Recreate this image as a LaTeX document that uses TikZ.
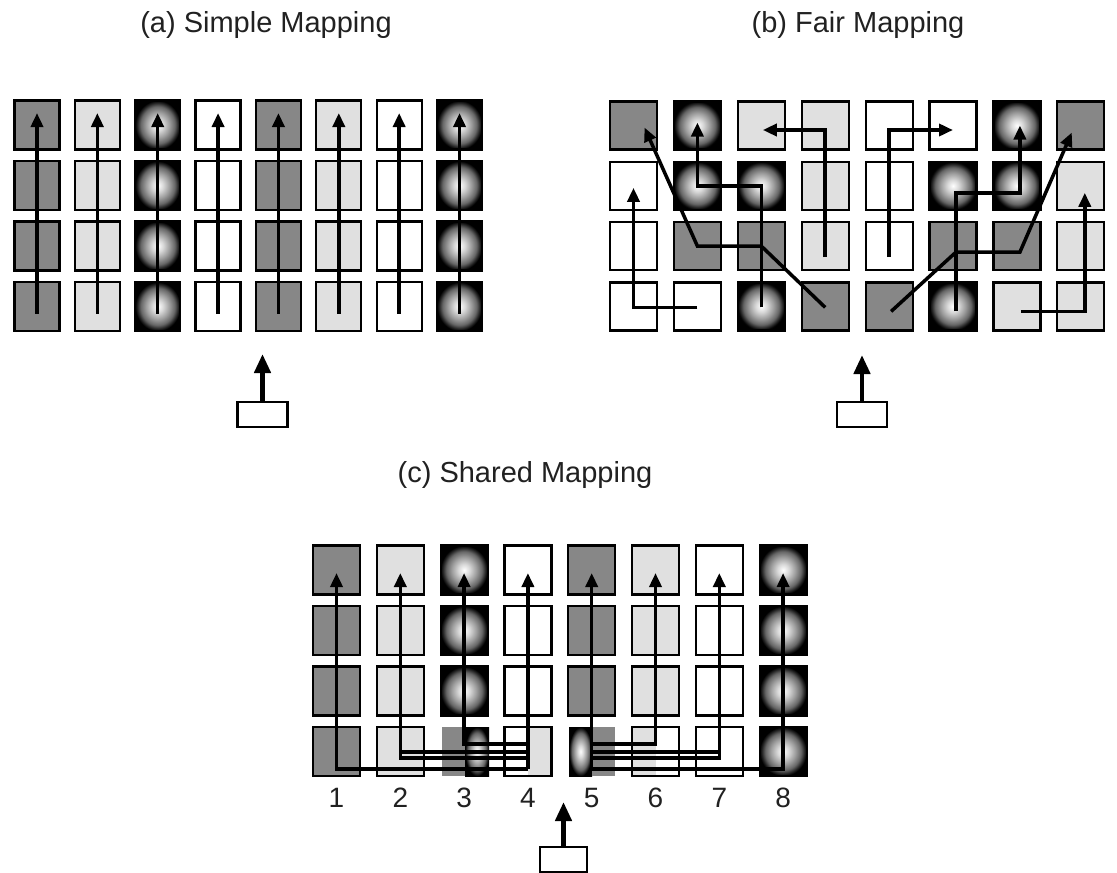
\documentclass[tikz,border=0pt]{standalone}
\usepackage{fontspec}
\setmainfont{Liberation Sans}
\usetikzlibrary{arrows.meta,calc}
\definecolor{cdark}{gray}{0.53}
\definecolor{clight}{gray}{0.88}
\definecolor{ctext}{gray}{0.13}
\pgfdeclareradialshading{ball}{\pgfpoint{0bp}{0bp}}{color(0bp)=(white); color(6bp)=(white!85!black); color(13bp)=(black!38); color(19bp)=(black!60); color(23bp)=(black!88); color(25bp)=(black); color(50bp)=(black)}
\tikzset{
  cell/.style={draw=black,line width=2.2pt,minimum height=49pt,inner sep=0pt,outer sep=0pt},
  fdk/.style={fill=cdark},
  flt/.style={fill=clight},
  fwh/.style={fill=white},
  fbl/.style={shading=ball},
  fnone/.style={draw=none},
  conn/.style={line width=3.5pt,-{Triangle[width=12pt,length=14pt]}},
  plain/.style={line width=3.5pt},
  inbox/.style={draw=black,line width=2.2pt,fill=white,minimum width=50pt,minimum height=25pt,inner sep=0pt,outer sep=0pt},
  inarrow/.style={line width=4.5pt,-{Triangle[width=16pt,length=19pt]}},
  title/.style={font=\fontsize{29}{34}\selectfont,text=ctext,inner sep=0pt},
  num/.style={font=\fontsize{28}{32}\selectfont,text=ctext,inner sep=0pt,anchor=base}
}
\begin{document}
\begin{tikzpicture}[x=1pt,y=-1pt]
\useasboundingbox[fill=white] (0,0) rectangle (1117,873);

% titles
\node[title] (ta) at (266,25) {(a) Simple Mapping};
\node[title] (tb) at (858,25) {(b) Fair Mapping};
\node[title] (tc) at (525,475) {(c) Shared Mapping};

% ---------- (a) ----------
\foreach \f [count=\i] in {fdk,flt,fbl,fwh,fdk,flt,fwh,fbl}
  \foreach \j in {1,...,4}
    \node[cell,\f,minimum width=45pt] (a-\j-\i) at ({37+60.36*(\i-1)},{125+60.5*(\j-1)}) {};
\foreach \i in {1,...,8}
  \draw[conn] ($(a-4-\i.center)+(0,7)$) -- ($(a-1-\i.center)+(0,-12)$);

\node[inbox] (ina) at (262.5,414.5) {};
\coordinate (ina-t) at (262.5,354);
\draw[inarrow] (ina.north) -- (ina-t);

% ---------- (b) ----------
\foreach \row [count=\j] in {{fdk,fbl,flt,flt,fwh,fwh,fbl,fdk},{fwh,fbl,fbl,flt,fwh,fbl,fbl,flt},{fwh,fdk,fdk,flt,fwh,fdk,fdk,flt},{fwh,fwh,fbl,fdk,fdk,fbl,flt,flt}}
  \foreach \f [count=\i] in \row
    \node[cell,\f,minimum width=47pt,minimum height=48pt] (b-\j-\i) at ({633.5+63.9*(\i-1)},{125.5+60.3*(\j-1)}) {};

% A
\draw[conn] ($(b-4-2.center)+(0,1)$) -- ($(b-4-1.center)+(0,1)$) -- ($(b-2-1.center)+(0,2)$);
% B
\draw[conn] ($(b-4-4.center)+(0,1)$) -- (b-3-3.center) -- (b-3-2.center) -- ($(b-1-1.center)+(11,2)$);
% C
\draw[conn] ($(b-4-3.center)+(0,1)$) -- (b-2-3.center) -- (b-2-2.center) -- ($(b-1-2.center)+(0,-3)$);
% D
\draw[conn] ($(b-3-4.center)+(0,11)$) -- ($(b-1-4.center)+(0,4.5)$) -- ($(b-1-3.center)+(1.5,4.5)$);
% E
\draw[conn] ($(b-3-5.center)+(0,11)$) -- ($(b-1-5.center)+(0,4.5)$) -- ($(b-1-6.center)+(0,4.5)$);
% F
\draw[conn] ($(b-4-6.center)+(3,5)$) -- ($(b-2-6.center)+(3,7)$) -- ($(b-2-7.center)+(3,7)$) -- ($(b-1-7.center)+(3,0)$);
% G
\draw[conn] ($(b-4-5.center)+(2,5)$) -- ($(b-3-6.center)+(3,6)$) -- ($(b-3-7.center)+(3,6)$) -- ($(b-1-8.center)+(-9,7)$);
% H
\draw[conn] ($(b-4-7.center)+(4,5)$) -- ($(b-4-8.center)+(4,5)$) -- ($(b-2-8.center)+(4,7)$);

\node[inbox] (inb) at (862,414.5) {};
\coordinate (inb-t) at (862,355);
\draw[inarrow] (inb.north) -- (inb-t);

% ---------- (c) ----------
\fill[cdark] (442,727) rectangle (465,776);
\shade[shading=ball] (465,727) rectangle (489,776);
\fill[clight] (528,727) rectangle (552,776);
\shade[shading=ball] (569,727) rectangle (592,776);
\fill[cdark] (592,727) rectangle (615,776);
\fill[clight] (633,727) rectangle (656,776);

\foreach \row [count=\j] in {{fdk,flt,fbl,fwh,fdk,flt,fwh,fbl},{fdk,flt,fbl,fwh,fdk,flt,fwh,fbl},{fdk,flt,fbl,fwh,fdk,flt,fwh,fbl},{fdk,flt,fnone,cell,fnone,cell,fwh,fbl}}
  \foreach \f [count=\i] in \row
    \node[cell,\f,minimum width=47pt] (c-\j-\i) at ({336.5+63.8*(\i-1)},{570+60.5*(\j-1)}) {};

\foreach \i in {1,...,8}
  \node[num] (n-\i) at ({336.5+63.8*(\i-1)},807) {\i};

% left group
\draw[conn] ($(c-4-4.center)+(0,17.5)$) -| ($(c-1-1.center)+(0,3)$);
\draw[conn] ($(c-4-4.center)+(0,6.5)$) -| ($(c-1-2.center)+(0,3)$);
\draw[conn] ($(c-4-4.center)+(0,-7.5)$) -| ($(c-1-3.center)+(0,3)$);
\draw[conn] ($(c-4-4.center)+(0,17.5)$) -- ($(c-1-4.center)+(0,3)$);
\draw[plain] ($(c-4-4.center)+(0,0.5)$) -- ($(c-4-2.center)+(0,0.5)$);
% right group
\draw[conn] ($(c-4-5.center)+(0,17.5)$) -| ($(c-1-8.center)+(0,3)$);
\draw[conn] ($(c-4-5.center)+(0,6.5)$) -| ($(c-1-7.center)+(0,3)$);
\draw[conn] ($(c-4-5.center)+(0,-7.5)$) -| ($(c-1-6.center)+(0,3)$);
\draw[conn] ($(c-4-5.center)+(0,17.5)$) -- ($(c-1-5.center)+(0,3)$);
\draw[plain] ($(c-4-5.center)+(0,0.5)$) -- ($(c-4-7.center)+(0,0.5)$);

\node[inbox,minimum width=47pt] (inc) at (563.5,859.5) {};
\coordinate (inc-t) at (563.5,802);
\draw[inarrow] (inc.north) -- (inc-t);
\end{tikzpicture}
\end{document}
